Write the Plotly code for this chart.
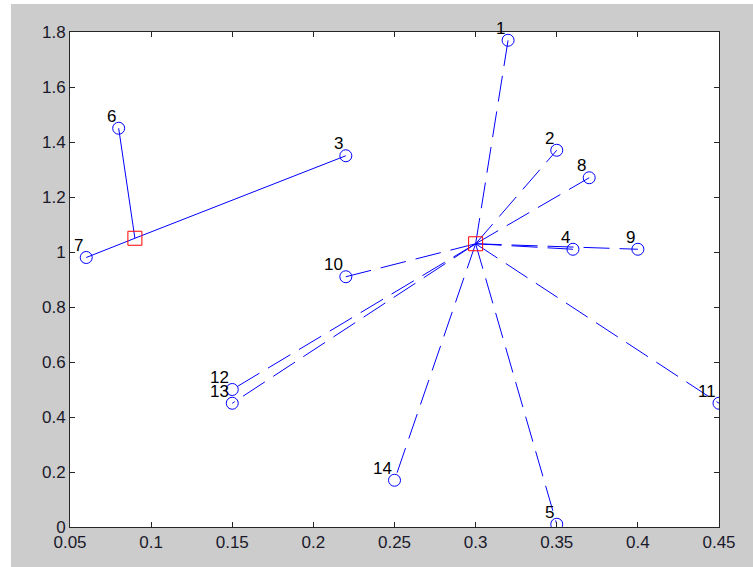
import plotly.graph_objects as go

# data
labels = [str(i) for i in range(1, 15)]
px_ = [0.32, 0.35, 0.22, 0.36, 0.35, 0.08, 0.06, 0.37, 0.40, 0.22, 0.45, 0.15, 0.15, 0.25]
py_ = [1.77, 1.37, 1.35, 1.01, 0.01, 1.45, 0.98, 1.27, 1.01, 0.91, 0.45, 0.50, 0.45, 0.17]
cluster = [2, 2, 1, 2, 2, 1, 1, 2, 2, 2, 2, 2, 2, 2]
center_x = [0.09, 0.30]
center_y = [1.05, 1.03]
xtick_vals = [0.05, 0.1, 0.15, 0.2, 0.25, 0.3, 0.35, 0.4, 0.45]
xtick_text = ["0.05", "0.1", "0.15", "0.2", "0.25", "0.3", "0.35", "0.4", "0.45"]
ytick_vals = [0, 0.2, 0.4, 0.6, 0.8, 1.0, 1.2, 1.4, 1.6, 1.8]
ytick_text = ["0", "0.2", "0.4", "0.6", "0.8", "1", "1.2", "1.4", "1.6", "1.8"]

BLUE = "#0000ff"
FONT = "Liberation Sans, Arial, sans-serif"
W, H = 753, 567
ML, MR, MT, MB = 70, 34, 32, 40
PW, PH = W - ML - MR, H - MT - MB

fig = go.Figure()

for k, dash in [(1, "solid"), (2, "26px,10px")]:
    lx, ly = [], []
    for xi, yi, c in zip(px_, py_, cluster):
        if c == k:
            lx += [center_x[k - 1], xi, None]
            ly += [center_y[k - 1], yi, None]
    fig.add_trace(go.Scatter(x=lx, y=ly, mode="lines",
                             line=dict(color=BLUE, width=1, dash=dash),
                             hoverinfo="skip", showlegend=False))

fig.add_trace(go.Scatter(x=px_, y=py_, mode="markers",
                         marker=dict(symbol="circle-open", size=12,
                                     line=dict(color=BLUE, width=1), color=BLUE),
                         showlegend=False))
fig.add_trace(go.Scatter(x=center_x, y=center_y, mode="markers",
                         marker=dict(symbol="square-open", size=14,
                                     line=dict(color="#ff0000", width=1), color="#ff0000"),
                         showlegend=False))

for xi, yi, lab in zip(px_, py_, labels):
    fig.add_annotation(x=xi, y=yi, xref="x", yref="y", text=lab, showarrow=False,
                       xanchor="right", yanchor="middle", xshift=-1, yshift=12,
                       font=dict(family=FONT, size=17, color="#000000"))

axis_common = dict(showline=True, linecolor="#262626", linewidth=1, mirror="ticks",
                   ticks="inside", ticklen=5, tickcolor="#262626", showgrid=False,
                   zeroline=False, tickfont=dict(family=FONT, size=17, color="#1a1a2a"))

# white strips at the top and left edges of the window
shapes = [
    dict(type="rect", xref="paper", yref="paper", layer="below", line=dict(width=0),
         fillcolor="white", x0=-ML / PW, x1=(11 - ML) / PW, y0=-MB / PH, y1=1 + MT / PH),
    dict(type="rect", xref="paper", yref="paper", layer="below", line=dict(width=0),
         fillcolor="white", x0=-ML / PW, x1=1 + MR / PW, y0=1 + (MT - 4) / PH, y1=1 + MT / PH),
]

fig.update_layout(
    width=W, height=H,
    margin=dict(l=ML, r=MR, t=MT, b=MB, pad=0),
    paper_bgcolor="#cccccc", plot_bgcolor="white",
    xaxis=dict(range=[0.05, 0.45], tickvals=xtick_vals, ticktext=xtick_text, **axis_common),
    yaxis=dict(range=[0, 1.8], tickvals=ytick_vals, ticktext=ytick_text, **axis_common),
    shapes=shapes,
    showlegend=False,
)

fig.write_html("out.html")
